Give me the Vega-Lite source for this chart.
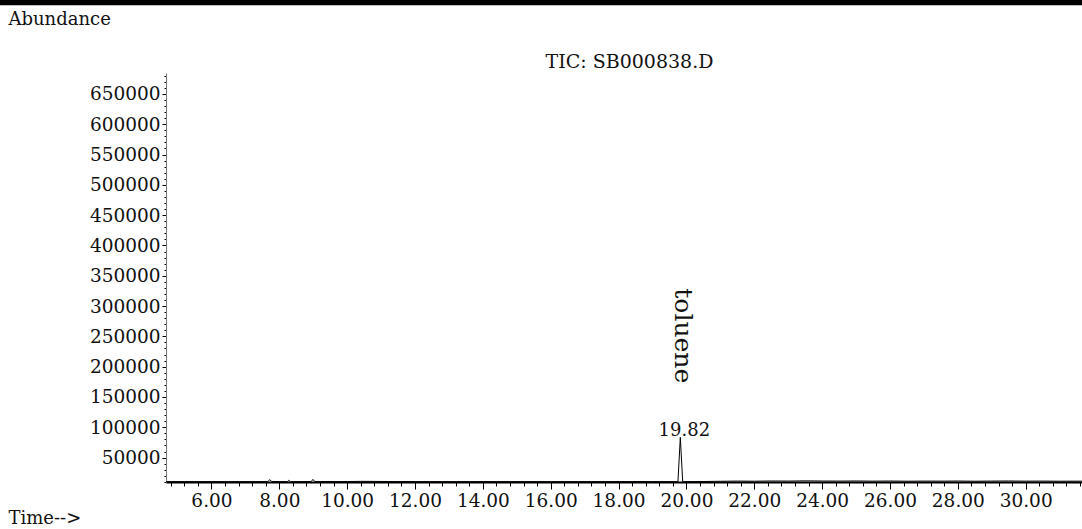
{
  "$schema": "https://vega.github.io/schema/vega-lite/v6.json",
  "autosize": "none",
  "width": 916,
  "height": 409,
  "padding": {"left": 166, "top": 73, "right": 0, "bottom": 47},
  "background": "white",
  "config": {
    "view": {"stroke": null},
    "axis": {"labelFont": "DejaVu Serif", "titleFont": "DejaVu Serif", "labelColor": "#111", "titleColor": "#111", "titleFontWeight": "normal", "grid": false}
  },
  "datasets": {
    "tic": [
      {"time": 4.66, "abundance": 10300},
      {"time": 5.5, "abundance": 10400},
      {"time": 6.5, "abundance": 10300},
      {"time": 7.3, "abundance": 10400},
      {"time": 7.66, "abundance": 10400},
      {"time": 7.72, "abundance": 13500},
      {"time": 7.78, "abundance": 10400},
      {"time": 8.24, "abundance": 10300},
      {"time": 8.28, "abundance": 12500},
      {"time": 8.32, "abundance": 10300},
      {"time": 8.94, "abundance": 10400},
      {"time": 8.99, "abundance": 14000},
      {"time": 9.05, "abundance": 10400},
      {"time": 10.0, "abundance": 10400},
      {"time": 10.4, "abundance": 10800},
      {"time": 11.5, "abundance": 10400},
      {"time": 13.0, "abundance": 10300},
      {"time": 14.5, "abundance": 10400},
      {"time": 16.0, "abundance": 10300},
      {"time": 17.5, "abundance": 10400},
      {"time": 19.0, "abundance": 10400},
      {"time": 19.75, "abundance": 10300},
      {"time": 19.82, "abundance": 83400},
      {"time": 19.89, "abundance": 10300},
      {"time": 20.5, "abundance": 10500},
      {"time": 21.0, "abundance": 10900},
      {"time": 21.5, "abundance": 11200},
      {"time": 22.0, "abundance": 11000},
      {"time": 22.5, "abundance": 11400},
      {"time": 23.0, "abundance": 11200},
      {"time": 23.5, "abundance": 11600},
      {"time": 24.0, "abundance": 11300},
      {"time": 24.5, "abundance": 11200},
      {"time": 25.0, "abundance": 11400},
      {"time": 25.5, "abundance": 11100},
      {"time": 26.0, "abundance": 11300},
      {"time": 26.5, "abundance": 11000},
      {"time": 27.0, "abundance": 11200},
      {"time": 27.5, "abundance": 11100},
      {"time": 28.0, "abundance": 11300},
      {"time": 28.5, "abundance": 11000},
      {"time": 29.0, "abundance": 11200},
      {"time": 29.5, "abundance": 11400},
      {"time": 30.0, "abundance": 11100},
      {"time": 30.5, "abundance": 11200},
      {"time": 31.0, "abundance": 11000},
      {"time": 31.66, "abundance": 11100}
    ],
    "peaks": [
      {"time": 19.82, "abundance": 83400, "rt": "19.82", "compound": "toluene"}
    ]
  },
  "resolve": {"axis": {"x": "independent", "y": "independent"}},
  "layer": [
    {
      "data": {"name": "tic"},
      "mark": {"type": "line", "color": "black", "strokeWidth": 1},
      "encoding": {
        "x": {
          "field": "time", "type": "quantitative",
          "scale": {"domain": [4.66, 31.66], "nice": false, "zero": false},
          "axis": {
            "orient": "bottom",
            "title": "Time-->",
            "titleX": -158, "titleY": 41, "titleAlign": "left", "titleBaseline": "alphabetic", "titleFontSize": 18, "titleAnchor": null,
            "values": [4.8,5.2,5.6,6,6.4,6.8,7.2,7.6,8,8.4,8.8,9.2,9.6,10,10.4,10.8,11.2,11.6,12,12.4,12.8,13.2,13.6,14,14.4,14.8,15.2,15.6,16,16.4,16.8,17.2,17.6,18,18.4,18.8,19.2,19.6,20,20.4,20.8,21.2,21.6,22,22.4,22.8,23.2,23.6,24,24.4,24.8,25.2,25.6,26,26.4,26.8,27.2,27.6,28,28.4,28.8,29.2,29.6,30,30.4,30.8,31.2,31.6],
            "labelExpr": "abs(datum.value/2 - round(datum.value/2)) < 0.001 ? format(datum.value, '.2f') : ''",
            "tickSize": {"condition": {"test": "abs(datum.value/2 - round(datum.value/2)) < 0.001", "value": 7}, "value": 4},
            "tickColor": "black", "tickWidth": 1,
            "domainColor": "black", "domainWidth": 2,
            "labelFontSize": 18.5, "labelPadding": 2, "labelOverlap": false, "labelFlush": false
          }
        },
        "y": {
          "field": "abundance", "type": "quantitative",
          "scale": {"domain": [9700, 684550], "nice": false, "zero": false},
          "axis": {
            "orient": "left",
            "title": "Abundance",
            "titleAngle": 0, "titleX": -158, "titleY": -49, "titleAlign": "left", "titleBaseline": "alphabetic", "titleFontSize": 18, "titleAnchor": null,
            "values": [10000,20000,30000,40000,50000,60000,70000,80000,90000,100000,110000,120000,130000,140000,150000,160000,170000,180000,190000,200000,210000,220000,230000,240000,250000,260000,270000,280000,290000,300000,310000,320000,330000,340000,350000,360000,370000,380000,390000,400000,410000,420000,430000,440000,450000,460000,470000,480000,490000,500000,510000,520000,530000,540000,550000,560000,570000,580000,590000,600000,610000,620000,630000,640000,650000,660000,670000,680000],
            "labelExpr": "datum.value % 50000 == 0 ? format(datum.value, 'd') : ''",
            "tickSize": {"condition": {"test": "datum.value % 50000 == 0", "value": 4}, "value": 2},
            "tickColor": "black", "tickWidth": 1,
            "domainColor": "#777", "domainWidth": 1,
            "labelFontSize": 18.5, "labelPadding": 2, "labelOverlap": false, "labelFlush": false
          }
        }
      }
    },
    {
      "data": {"values": [{}]},
      "mark": {"type": "rect", "color": "black"},
      "encoding": {
        "x": {
          "datum": -0.4, "type": "quantitative",
          "axis": {
            "orient": "top", "domain": false, "ticks": false, "labels": false, "grid": false,
            "title": "TIC: SB000838.D", "titleX": 463, "titleY": -6, "titleAlign": "center", "titleBaseline": "alphabetic", "titleFontSize": 19, "titleAnchor": null
          }
        },
        "x2": {"datum": 32.2},
        "y": {"datum": 810000, "type": "quantitative", "axis": null},
        "y2": {"datum": 796500}
      }
    },
    {
      "data": {"name": "peaks"},
      "mark": {"type": "text", "font": "DejaVu Serif", "fontSize": 18, "color": "#111", "align": "center", "baseline": "alphabetic", "dx": 4, "dy": -1},
      "encoding": {
        "x": {"field": "time", "type": "quantitative", "axis": null},
        "y": {"field": "abundance", "type": "quantitative", "axis": null},
        "text": {"field": "rt"}
      }
    },
    {
      "data": {"name": "peaks"},
      "mark": {"type": "text", "font": "DejaVu Serif", "fontSize": 25, "color": "#111", "align": "center", "baseline": "middle", "angle": 90, "dy": -3},
      "encoding": {
        "x": {"field": "time", "type": "quantitative", "axis": null},
        "y": {"datum": 251000, "type": "quantitative", "axis": null},
        "text": {"field": "compound"}
      }
    }
  ]
}
